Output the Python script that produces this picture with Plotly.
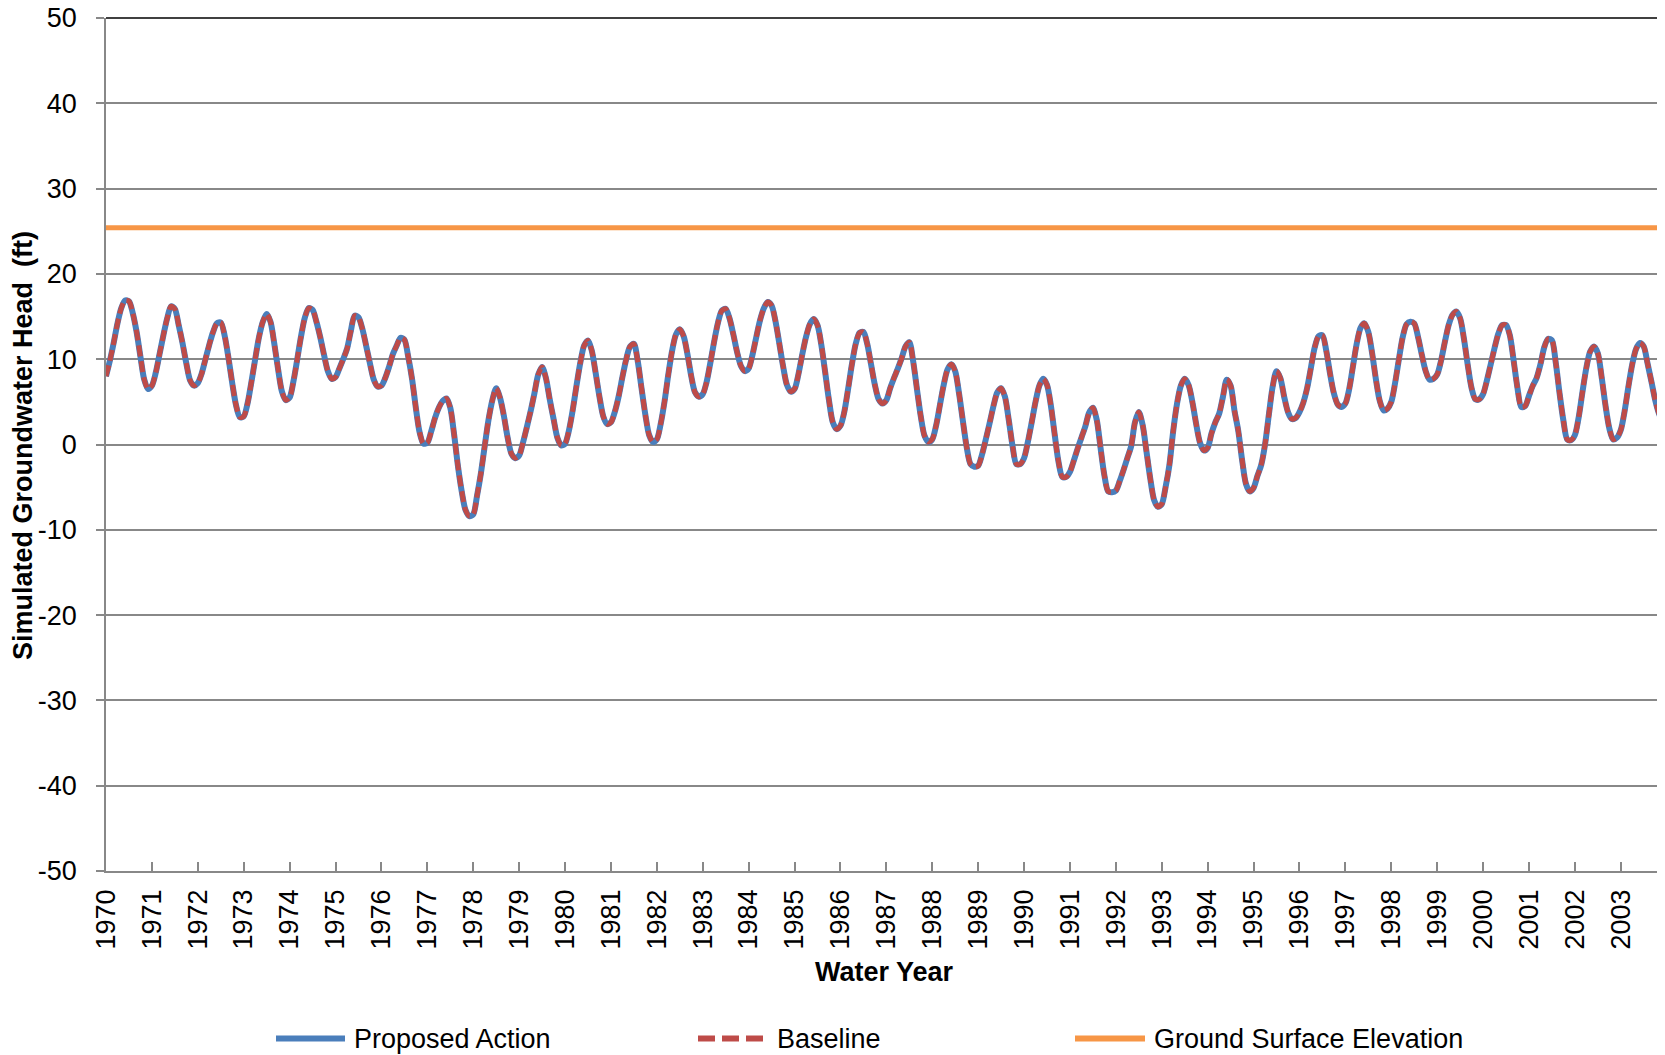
import plotly.graph_objects as go

# ---------------- data ----------------
water_years = list(range(1970, 2004))

# Simulated groundwater head (ft), monthly, Oct 1969 - Sep 2003 (12 values per water year)
proposed_head_ft = [
    8.0, 9.8, 11.9, 14.2, 16.0, 16.9, 16.8, 15.4, 13.2, 10.3, 7.6, 6.5,      # 1970
    6.9, 8.4, 10.6, 12.8, 14.8, 16.2, 15.9, 14.0, 11.9, 9.5, 7.5, 6.9,       # 1971
    7.2, 8.3, 10.0, 11.7, 13.2, 14.2, 14.3, 12.8, 10.2, 7.2, 4.6, 3.2,       # 1972
    3.3, 4.8, 7.3, 10.0, 12.6, 14.4, 15.3, 14.4, 11.8, 8.8, 6.2, 5.2,        # 1973
    5.5, 7.4, 10.0, 12.7, 14.9, 16.0, 15.8, 14.4, 12.6, 10.5, 8.6, 7.7,      # 1974
    7.9, 8.9, 10.0, 11.2, 13.3, 15.1, 14.9, 13.6, 11.6, 9.5, 7.6, 6.8,       # 1975
    6.9, 7.8, 9.1, 10.6, 11.6, 12.5, 12.3, 10.3, 7.7, 4.3, 1.4, 0.1,         # 1976
    0.2, 1.5, 3.1, 4.3, 5.1, 5.4, 4.3, 1.2, -2.5, -5.5, -7.7, -8.4,          # 1977
    -8.2, -6.0, -3.4, -0.2, 2.9, 5.2, 6.6, 5.5, 3.4, 0.8, -1.1, -1.6,        # 1978
    -1.3, 0.2, 2.0, 3.9, 6.0, 8.2, 9.1, 7.8, 5.3, 3.0, 0.8, -0.1,            # 1979
    0.1, 1.6, 4.0, 6.9, 9.6, 11.6, 12.2, 11.0, 8.4, 5.6, 3.3, 2.4,           # 1980
    2.6, 3.8, 5.6, 7.9, 10.0, 11.5, 11.8, 9.8, 6.6, 3.5, 1.1, 0.3,           # 1981
    0.6, 2.4, 5.0, 8.2, 11.0, 12.9, 13.5, 12.7, 10.6, 8.0, 6.1, 5.6,         # 1982
    5.9, 7.3, 9.6, 12.1, 14.3, 15.7, 15.9, 14.8, 12.9, 10.8, 9.2, 8.6,       # 1983
    8.9, 10.5, 12.6, 14.6, 16.0, 16.7, 16.3, 14.5, 11.9, 9.2, 7.0, 6.2,      # 1984
    6.5, 8.2, 10.5, 12.6, 14.1, 14.7, 14.0, 11.7, 8.5, 5.2, 2.6, 1.8,        # 1985
    2.2, 3.8, 6.5, 9.4, 11.8, 13.1, 13.2, 11.8, 9.4, 7.0, 5.3, 4.8,          # 1986
    5.2, 6.6, 7.8, 8.9, 10.1, 11.5, 12.0, 9.8, 6.5, 3.3, 1.0, 0.3,           # 1987
    0.6, 2.2, 4.6, 7.0, 8.8, 9.4, 8.6, 6.0, 2.8, -0.3, -2.3, -2.6,           # 1988
    -2.5, -1.2, 0.6, 2.5, 4.5, 6.1, 6.6, 5.6, 2.9, -0.2, -2.3, -2.3,         # 1989
    -1.6, 0.3, 2.6, 5.0, 6.9, 7.7, 7.0, 4.6, 1.2, -2.0, -3.8, -3.8,          # 1990
    -3.2, -1.9, -0.5, 0.8, 2.1, 3.7, 4.3, 2.9, -0.4, -3.6, -5.5, -5.6,       # 1991
    -5.4, -4.3, -3.0, -1.6, -0.2, 2.6, 3.8, 2.3, -0.8, -4.0, -6.5, -7.3,     # 1992
    -7.0, -5.0, -2.4, 1.6, 4.8, 6.9, 7.7, 7.0, 5.0, 2.4, 0.2, -0.7,          # 1993
    -0.4, 1.3, 2.6, 3.6, 5.6, 7.6, 6.9, 4.0, 1.6, -1.8, -4.6, -5.5,          # 1994
    -5.1, -3.7, -2.4, 0.0, 3.5, 6.8, 8.6, 7.8, 5.6, 3.8, 3.0, 3.1,           # 1995
    3.8, 4.9, 6.6, 9.0, 11.4, 12.7, 12.8, 11.0, 8.3, 6.0, 4.7, 4.4,          # 1996
    4.8, 6.5, 9.2, 11.9, 13.7, 14.2, 13.2, 10.7, 7.6, 5.1, 4.0, 4.2,         # 1997
    5.0, 7.2, 10.0, 12.6, 14.1, 14.4, 14.2, 12.6, 10.5, 8.6, 7.6, 7.7,       # 1998
    8.2, 9.8, 12.0, 14.0, 15.2, 15.6, 14.8, 12.4, 9.3, 6.6, 5.3, 5.3,        # 1999
    5.9, 7.5, 9.4, 11.3, 13.0, 14.0, 14.0, 12.8, 9.8, 6.6, 4.4, 4.5,         # 2000
    5.7, 6.9, 7.8, 9.4, 11.4, 12.4, 12.2, 9.6, 6.0, 2.8, 0.6, 0.5,           # 2001
    1.1, 3.2, 6.2, 9.0, 10.9, 11.5, 10.7, 7.9, 4.6, 1.9, 0.6, 0.8,           # 2002
    1.7, 3.9, 6.8, 9.4, 11.2, 11.9, 11.5, 9.5, 7.4, 5.2, 3.6, 2.7,           # 2003
]
baseline_head_ft = list(proposed_head_ft)   # baseline plots on top of proposed action
ground_surface_ft = 25.4

y_tick_values = [-50, -40, -30, -20, -10, 0, 10, 20, 30, 40, 50]
y_tick_labels = ["-50", "-40", "-30", "-20", "-10", "0", "10", "20", "30", "40", "50"]

# ---------------- style ----------------
OFF = 8                       # page body margin
W, H = 1665 - OFF, 1055 - OFF
L, R, T, B = 106 - OFF, 1, 18 - OFF, 184
PW, PH = W - L - R, H - T - B
FONT = "Liberation Sans, Arial, sans-serif"
FS = 27
BLUE, RED, ORANGE, GRID = "#4A7EBB", "#BE4B48", "#F79646", "#888888"


def px_x(p):
    return (p - OFF - L) / PW


def px_y(p):
    return (H - B - (p - OFF)) / PH


months = list(range(len(proposed_head_ft)))
year_ticks = [12 * i for i in range(len(water_years))]

fig = go.Figure()
fig.add_trace(go.Scatter(x=[months[0], months[-1] + 0.5],
                         y=[ground_surface_ft, ground_surface_ft],
                         mode="lines", line=dict(color=ORANGE, width=5),
                         name="Ground Surface Elevation", cliponaxis=False))
fig.add_trace(go.Scatter(x=months, y=proposed_head_ft, mode="lines",
                         line=dict(color=BLUE, width=6, shape="spline", smoothing=0.8),
                         name="Proposed Action"))
fig.add_trace(go.Scatter(x=months, y=baseline_head_ft, mode="lines",
                         line=dict(color=RED, width=5, shape="spline", smoothing=0.8,
                                   dash="11px,5px"),
                         name="Baseline"))

fig.update_layout(
    width=W, height=H,
    margin=dict(l=L, r=R, t=T, b=B, pad=0, autoexpand=False),
    paper_bgcolor="white", plot_bgcolor="white",
    showlegend=False,
    font=dict(family=FONT, size=FS, color="black"),
)
fig.update_xaxes(
    range=[0, 407.3], tickmode="array", tickvals=year_ticks,
    ticktext=[str(y) for y in water_years], tickangle=-90,
    ticks="inside", ticklen=9, tickcolor=GRID, tickwidth=1.5,
    showline=True, linecolor=GRID, linewidth=1.5,
    showgrid=False, zeroline=False, ticklabelstandoff=6,
    tickfont=dict(size=FS), ticklabeloverflow="allow", automargin=False,
)
fig.update_yaxes(
    range=[-50, 50], tickmode="array", tickvals=y_tick_values, ticktext=y_tick_labels,
    ticks="outside", ticklen=8, tickcolor=GRID, tickwidth=1.5,
    showline=True, linecolor=GRID, linewidth=1.5,
    showgrid=True, gridcolor=GRID, gridwidth=1.5, zeroline=False,
    ticklabelstandoff=14, tickfont=dict(size=FS), ticklabeloverflow="allow",
    automargin=False,
)

shapes = [
    dict(type="line", xref="paper", yref="paper", x0=0, x1=1, y0=1, y1=1,
         line=dict(color="black", width=1.5)),
    dict(type="line", xref="paper", yref="paper", x0=1, x1=1, y0=0, y1=1,
         line=dict(color="black", width=1.5)),
    # legend samples
    dict(type="line", xref="paper", yref="paper", x0=px_x(276), x1=px_x(345),
         y0=px_y(1038.5), y1=px_y(1038.5), line=dict(color=BLUE, width=6)),
    dict(type="line", xref="paper", yref="paper", x0=px_x(1075), x1=px_x(1145),
         y0=px_y(1038.5), y1=px_y(1038.5), line=dict(color=ORANGE, width=6)),
]
for a, b in [(698, 715), (722, 739), (746, 763)]:
    shapes.append(dict(type="line", xref="paper", yref="paper", x0=px_x(a), x1=px_x(b),
                       y0=px_y(1038.5), y1=px_y(1038.5), line=dict(color=RED, width=6)))

annotations = [
    dict(text="<b>Water Year</b>", xref="paper", yref="paper", x=px_x(884.5), y=px_y(972),
         showarrow=False, xanchor="center", yanchor="middle", font=dict(size=FS)),
    dict(text="<b>Simulated Groundwater Head  (ft)</b>", xref="paper", yref="paper",
         x=px_x(23), y=px_y(446), textangle=-90, showarrow=False,
         xanchor="center", yanchor="middle", font=dict(size=FS)),
]
for x0, label in [(352, "Proposed Action"), (775, "Baseline"), (1152, "Ground Surface Elevation")]:
    annotations.append(dict(text=label, xref="paper", yref="paper", x=px_x(x0), y=px_y(1038.5),
                            showarrow=False, xanchor="left", yanchor="middle",
                            font=dict(size=FS)))

fig.update_layout(shapes=shapes, annotations=annotations)
fig.write_html("out.html")
